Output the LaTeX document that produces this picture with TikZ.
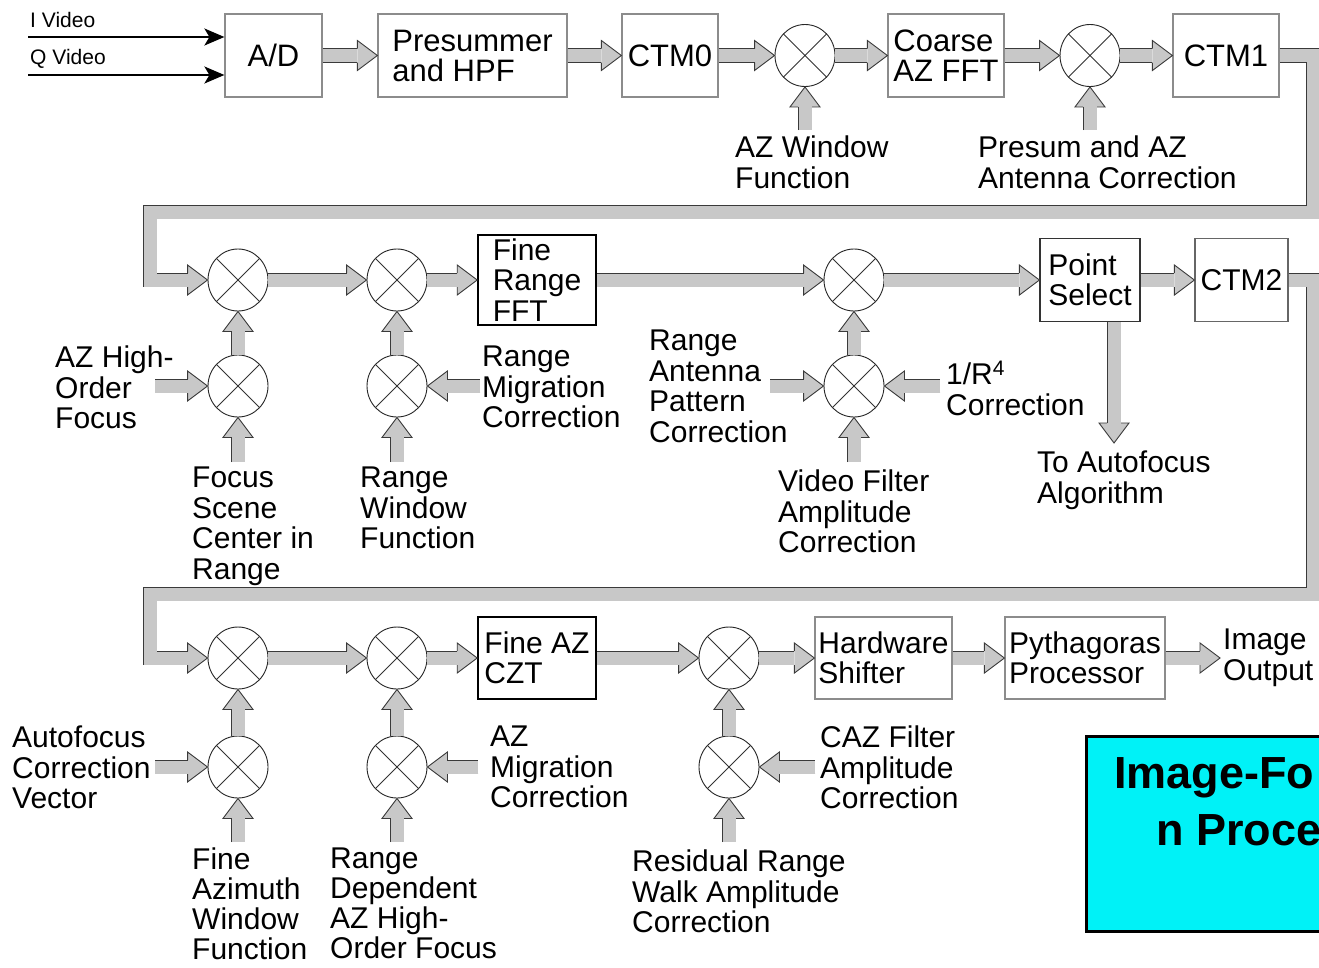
\documentclass[tikz,border=0pt]{standalone}
\usepackage{fontspec}
\setmainfont{Liberation Sans}
\usetikzlibrary{shapes.geometric,calc,arrows.meta}
\definecolor{arrowfill}{HTML}{C8C8C8}
\definecolor{arrowline}{HTML}{3A3A3A}
\definecolor{boxgray}{HTML}{8C8C8C}
\definecolor{cyanbox}{HTML}{00F2F7}
\tikzset{
  every node/.style={inner sep=0pt},
  lbl/.style={font=\fontsize{30}{30.5}\selectfont, align=left, anchor=north west},
  smalllbl/.style={font=\fontsize{21}{24}\selectfont, anchor=west},
  topbox/.style={draw=boxgray, line width=1.2pt, font=\fontsize{31}{30}\selectfont, align=left, minimum height=83pt},
  midbox/.style={draw=boxgray, line width=1.2pt, font=\fontsize{30}{30.5}\selectfont, align=left},
  darkbox/.style={midbox, draw=black, line width=1.6pt},
  mult/.style={ellipse, draw=black!85, line width=0.9pt, minimum width=60pt, minimum height=62pt, fill=white},
  xline/.style={draw=black!80, line width=0.8pt},
  shaft/.style={draw=arrowline, line width=0.9pt, double=arrowfill, double distance=13pt, line join=miter},
  bhead/.style={fill=arrowfill, draw=arrowline, line width=0.9pt, line join=miter},
  thinarrow/.style={line width=2pt, -{Stealth[length=20pt,width=17pt,inset=5pt]}},
  titletext/.style={font=\fontsize{45}{57}\bfseries\selectfont, anchor=base west},
}
% arrow head only: #1 = a point behind, #2 = tip; defines (bh) = base of head
\newcommand{\bhd}[2]{%
  \coordinate (bh) at ($(#2)!20pt!(#1)$);
  \filldraw[bhead] ($(bh)!7pt!90:(#2)$) -- ($(bh)!15pt!90:(#2)$) -- (#2) -- ($(bh)!15pt!-90:(#2)$) -- ($(bh)!7pt!-90:(#2)$);
}
% straight block arrow from #1 to #2
\newcommand{\blk}[2]{%
  \bhd{#1}{#2}%
  \draw[shaft] (#1) -- (bh);
}
\begin{document}
\begin{tikzpicture}[x=1pt,y=-1pt]
\useasboundingbox (0,0) rectangle (1319,967);
\clip (0,0) rectangle (1319,967);
\fill[white] (0,0) rectangle (1319,967);

% ---------- row 1 ----------
\node[smalllbl] (iv) at (30,20) {I Video};
\node[smalllbl] (qv) at (30,59) {Q Video};
\node[topbox, minimum width=97pt] (ad) at (273.5,55.5) {A/D};
\node[topbox, minimum width=189pt] (pre) at (472.5,55.5) {Presummer\\and HPF};
\node[topbox, minimum width=96pt] (ctm0) at (670,55.5) {CTM0};
\node[mult] (m1) at (805,55.5) {};
\node[topbox, minimum width=116pt] (caz) at (946,55.5) {Coarse\\AZ FFT};
\node[mult] (m2) at (1090,55.5) {};
\node[topbox, minimum width=106pt] (ctm1) at (1226,55.5) {CTM1};
\node[lbl] (lazw) at (735,136) {AZ Window\\Function};
\node[lbl] (lpre) at (978,136) {Presum and AZ\\Antenna Correction};

\coordinate (ivs) at (28,37);
\coordinate (qvs) at (28,75);
\draw[thinarrow] (ivs) -- (ivs -| ad.west);
\draw[thinarrow] (qvs) -- (qvs -| ad.west);
\blk{ad.east}{pre.west}
\blk{pre.east}{ctm0.west}
\blk{ctm0.east}{m1.west}
\blk{m1.east}{caz.west}
\blk{caz.east}{m2.west}
\blk{m2.east}{ctm1.west}
\coordinate (azwin) at (805,130);
\coordinate (presin) at (1090,130);
\blk{azwin}{m1.south}
\blk{presin}{m2.south}

% ---------- row 2 ----------
\node[mult] (ma) at (238,280) {};
\node[mult] (mb) at (397,280) {};
\node[darkbox, minimum width=118pt, minimum height=90pt] (frf) at (537,280) {Fine\\Range\\FFT};
\node[mult] (mc) at (854,280) {};
\node[midbox, draw=black!80, minimum width=100pt, minimum height=83pt] (ps) at (1090,280) {Point\\Select};
\node[midbox, draw=black!60, minimum width=93pt, minimum height=83pt] (ctm2) at (1241.5,280) {CTM2};
\node[mult] (ma2) at (238,386) {};
\node[mult] (mb2) at (397,386) {};
\node[mult] (mc2) at (854,386) {};

\node[lbl] (lazh) at (55,346) {AZ High-\\Order\\Focus};
\node[lbl] (lfoc) at (192,467) {Focus\\Scene\\Center in\\Range};
\node[lbl] (lrwf) at (360,467) {Range\\Window\\Function};
\node[lbl] (lrmc) at (482,346) {Range\\Migration\\Correction};
\node[lbl] (lrap) at (649,330) {Range\\Antenna\\Pattern\\Correction};
\node[lbl] (lr4) at (946,361) {1/R\textsuperscript{4}\\Correction};
\node[lbl] (lvf) at (778,470) {Video Filter\\Amplitude\\Correction};
\node[lbl] (lauto) at (1037,451) {To Autofocus\\Algorithm};

% U-turn from CTM1 to row 2
\coordinate (ur1) at (1313,212);
\coordinate (ul1) at (150,212);
\bhd{ma.west -| ul1}{ma.west}
\draw[shaft] (ctm1.east) -| (ur1) -- (ul1) |- (bh);

\blk{ma.east}{mb.west}
\blk{mb.east}{frf.west}
\blk{frf.east}{mc.west}
\blk{mc.east}{ps.west}
\blk{ps.east}{ctm2.west}
\blk{ma2.north}{ma.south}
\blk{mb2.north}{mb.south}
\blk{mc2.north}{mc.south}
\coordinate (azhin) at (155,386);
\coordinate (focin) at (238,462);
\coordinate (rwfin) at (397,462);
\coordinate (rmcin) at (480,386);
\coordinate (rapin) at (770,386);
\coordinate (r4in) at (940,386);
\coordinate (vfin) at (854,462);
\coordinate (psout) at ($(ps.south)+(24,0)$);
\coordinate (autoend) at (1114,443);
\blk{azhin}{ma2.west}
\blk{focin}{ma2.south}
\blk{rwfin}{mb2.south}
\blk{rmcin}{mb2.east}
\blk{rapin}{mc2.west}
\blk{r4in}{mc2.east}
\blk{vfin}{mc2.south}
\blk{psout}{autoend}

% ---------- row 3 ----------
\node[mult] (na) at (238,658) {};
\node[mult] (nb) at (397,658) {};
\node[darkbox, minimum width=118pt, minimum height=82pt] (faz) at (537,658) {Fine AZ\\CZT};
\node[mult] (nc) at (729,658) {};
\node[midbox, minimum width=137pt, minimum height=82pt] (hw) at (883.5,658) {Hardware\\Shifter};
\node[midbox, minimum width=160pt, minimum height=82pt] (py) at (1085,658) {Pythagoras\\Processor};
\node[lbl, anchor=west, inner sep=3pt] (out) at (1220,658) {Image\\Output};
\node[mult] (na2) at (238,767) {};
\node[mult] (nb2) at (397,767) {};
\node[mult] (nc2) at (729,767) {};

\node[lbl] (lafc) at (12,726) {Autofocus\\Correction\\Vector};
\node[lbl] (lazm) at (490,726) {AZ\\Migration\\Correction};
\node[lbl] (lcaz) at (820,726) {CAZ Filter\\Amplitude\\Correction};
\node[lbl, font=\fontsize{30}{30}\selectfont] (lfaw) at (192,848) {Fine\\Azimuth\\Window\\Function};
\node[lbl, font=\fontsize{30}{30}\selectfont] (lrdf) at (330,848) {Range\\Dependent\\AZ High-\\Order Focus};
\node[lbl] (lrrw) at (632,850) {Residual Range\\Walk Amplitude\\Correction};

% U-turn from CTM2 to row 3
\coordinate (ur2) at (1313,594);
\coordinate (ul2) at (150,594);
\bhd{na.west -| ul2}{na.west}
\draw[shaft] (ctm2.east) -| (ur2) -- (ul2) |- (bh);

\blk{na.east}{nb.west}
\blk{nb.east}{faz.west}
\blk{faz.east}{nc.west}
\blk{nc.east}{hw.west}
\blk{hw.east}{py.west}
\blk{py.east}{out.west}
\blk{na2.north}{na.south}
\blk{nb2.north}{nb.south}
\blk{nc2.north}{nc.south}
\coordinate (afcin) at (155,767);
\coordinate (fawin) at (238,842);
\coordinate (rdfin) at (397,842);
\coordinate (azmin) at (478,767);
\coordinate (cazin) at (815,767);
\coordinate (rrwin) at (729,842);
\blk{afcin}{na2.west}
\blk{fawin}{na2.south}
\blk{rdfin}{nb2.south}
\blk{azmin}{nb2.east}
\blk{cazin}{nc2.east}
\blk{rrwin}{nc2.south}

% crosses in multipliers
\foreach \m in {m1,m2,ma,mb,mc,ma2,mb2,mc2,na,nb,nc,na2,nb2,nc2}{
  \draw[xline] (\m.45) -- (\m.225) (\m.135) -- (\m.315);
}

% title box
\node[draw=black, line width=3pt, fill=cyanbox, anchor=north west, minimum width=320pt, minimum height=195pt] (tb) at (1085,735) {};
\node[titletext] (t1) at (1114,788) {Image-Fo};
\node[titletext] (t2) at (1156,845) {n Proce};
\end{tikzpicture}
\end{document}
